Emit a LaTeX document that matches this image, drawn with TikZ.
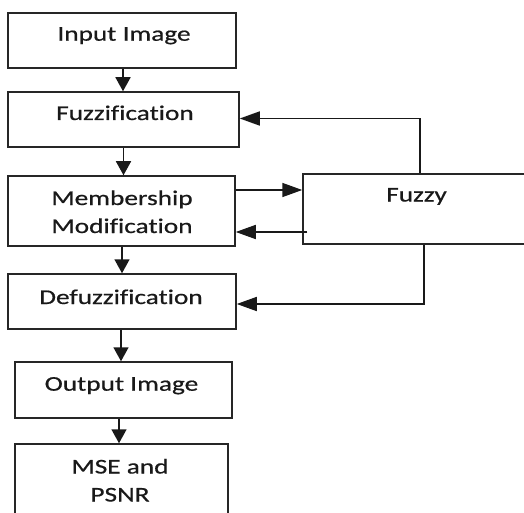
\documentclass[tikz,border=0pt]{standalone}
\usepackage{fontspec}
\setmainfont{Carlito}[FakeStretch=1.3,FakeBold=0.6,Ligatures=CommonOff]
\usetikzlibrary{arrows.meta}
\begin{document}
\begin{tikzpicture}[x=1pt,y=-1pt,
  box/.style={draw=black!85,line width=1.5pt,rectangle,inner sep=0pt},
  txt/.style={inner sep=0pt,anchor=base,font=\fontsize{21}{28}\selectfont,text=black!90},
  conn/.style={line width=1.6pt,draw=black!90},
  varr/.style={conn,-{Triangle[length=14pt,width=15pt]}},
  harr/.style={conn,-{Triangle[length=20pt,width=14pt]}}]
\useasboundingbox (0,0) rectangle (524,513);
\clip (0,0) rectangle (524,513);
% boxes
\node[box,minimum width=228pt,minimum height=55pt] (inp) at (122,40.5) {};
\node[box,minimum width=231pt,minimum height=55pt] (fuz) at (123.5,119.5) {};
\node[box,minimum width=227pt,minimum height=70pt] (mem) at (121.5,211) {};
\node[box,minimum width=228pt,minimum height=55pt] (def) at (122,301.5) {};
\node[box,minimum width=217pt,minimum height=56pt] (out) at (123.5,390) {};
\node[box,minimum width=213pt,minimum height=100pt] (mse) at (121.5,494) {};
\node[box,minimum width=260pt,minimum height=70pt] (fzy) at (433,209) {};
% texts
\node[txt] (inpT) at (124,40.7) {Input Image};
\node[txt] (fuzT) at (125,120) {Fuzzification};
\node[txt] (memT) at (122,205) {\begin{tabular}[t]{@{}c@{}}Membership\\Modification\end{tabular}};
\node[txt] (defT) at (121,304) {Defuzzification};
\node[txt] (outT) at (121.5,390.7) {Output Image};
\node[txt] (mseT) at (120,473.5) {\begin{tabular}[t]{@{}c@{}}MSE and\\PSNR\end{tabular}};
\node[txt] (fzyT) at (416.5,201.5) {Fuzzy};
% vertical flow
\draw[varr] ([xshift=1pt]inp.south) -- ([xshift=1pt]inp.south |- fuz.north);
\draw[varr] (fuz.south) -- (fuz.south |- mem.north);
\draw[varr] ([xshift=0.5pt]mem.south) -- ([xshift=0.5pt]mem.south |- def.north);
\draw[varr] ([xshift=-1pt]def.south) -- ([xshift=-1pt]def.south |- out.north);
\draw[varr] ([xshift=-4.5pt]out.south) -- ([xshift=-4.5pt]out.south |- mse.north);
% fuzzy connections
\draw[harr] ([yshift=21pt]mem.east) -- ([yshift=21pt]mem.east -| fzy.west);
\draw[harr] ([xshift=5pt,yshift=-21pt]mem.east -| fzy.west) -- ([yshift=-21pt]mem.east);
\draw[harr] ([xshift=-13pt]fzy.north) |- ([yshift=1pt]fuz.east);
\draw[harr] ([xshift=-9pt]fzy.south) |- ([yshift=-2.5pt]def.east);
\end{tikzpicture}
\end{document}
